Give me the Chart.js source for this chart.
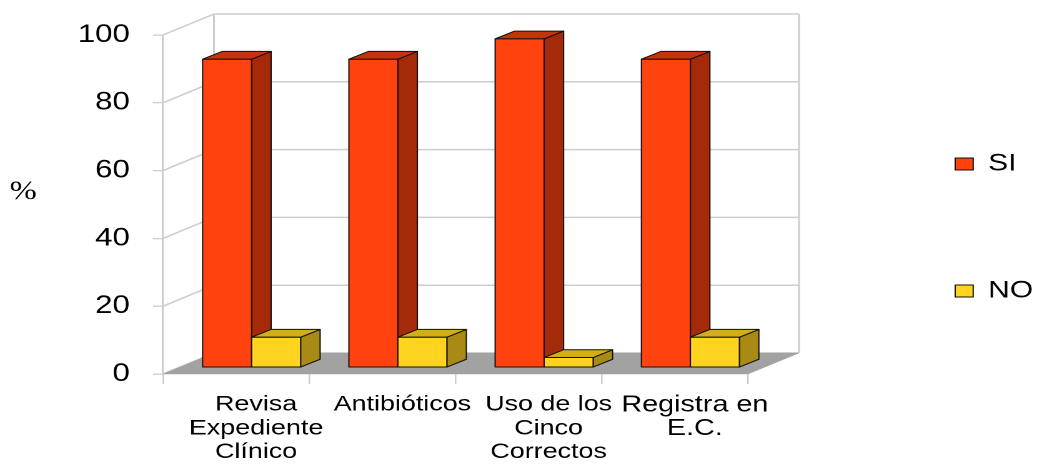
<!DOCTYPE html>
<html>
<head>
<meta charset="utf-8">
<script src="https://cdn.jsdelivr.net/npm/chart.js@4/dist/chart.umd.min.js"></script>
<style>
  html, body { margin: 0; padding: 0; background: #fff; overflow: hidden; }
  #wrap {
    position: absolute; left: 0; top: 0;
    width: 830px; height: 476px;
    transform: scaleX(1.2494); transform-origin: 0 0;
  }
</style>
</head>
<body>
<div id="wrap"><canvas id="chart"></canvas></div>
<script>
// ---- data ----
const categories = [
  ['Revisa', 'Expediente', 'Clínico'],
  ['Antibióticos'],
  ['Uso de los', 'Cinco', 'Correctos'],
  ['Registra en', 'E.C.']
];
const seriesNames = ['SI', 'NO'];
const siValues = [91, 91, 97, 91];
const noValues = [9, 9, 3, 9];
const yTickValues = [0, 20, 40, 60, 80, 100];
const axisTitle = '%';

// ---- look ----
const FONT = "'Liberation Sans', Arial, sans-serif";
const GRID = '#cdcdcd';
const FLOOR = '#a2a2a2';
// full depth of the box (back wall offset) and the slab the bars occupy
const DEPTH = { dx: 40.8, dy: -21 };
const BAR_FRONT = { dx: 12.4, dy: -6.3 };
const BAR_DEPTH = { dx: 15.6, dy: -7.8 };

function poly(ctx, pts, fill) {
  ctx.beginPath();
  ctx.moveTo(pts[0][0], pts[0][1]);
  for (let i = 1; i < pts.length; i++) ctx.lineTo(pts[i][0], pts[i][1]);
  ctx.closePath();
  ctx.fillStyle = fill;
  ctx.fill();
  ctx.stroke();
}

// back wall, left wall lines and floor
const walls3d = {
  id: 'walls3d',
  beforeDraw(chart) {
    const { ctx, chartArea: a, scales: { y } } = chart;
    const L = a.left, R = a.right;
    ctx.save();
    ctx.fillStyle = '#fff';
    ctx.fillRect(0, 0, chart.width, chart.height);
    ctx.strokeStyle = GRID;
    ctx.lineWidth = 1.5;
    ctx.beginPath();
    y.ticks.forEach(t => {
      const py = y.getPixelForValue(t.value);
      ctx.moveTo(L, py); ctx.lineTo(L + DEPTH.dx, py + DEPTH.dy);
      ctx.moveTo(L + DEPTH.dx, py + DEPTH.dy); ctx.lineTo(R + DEPTH.dx, py + DEPTH.dy);
    });
    const top = y.getPixelForValue(y.max) + DEPTH.dy;
    const bot = y.getPixelForValue(0) + DEPTH.dy;
    ctx.moveTo(L + DEPTH.dx, top); ctx.lineTo(L + DEPTH.dx, bot);
    ctx.moveTo(R + DEPTH.dx, top); ctx.lineTo(R + DEPTH.dx, bot);
    ctx.stroke();
    const B = y.getPixelForValue(0);
    ctx.strokeStyle = FLOOR;
    ctx.lineWidth = 0.5;
    poly(ctx, [[L, B], [R, B], [R + DEPTH.dx, B + DEPTH.dy], [L + DEPTH.dx, B + DEPTH.dy]], FLOOR);
    ctx.restore();
  },
  afterDraw(chart) {
    const ctx = chart.ctx;
    ctx.save();
    ctx.fillStyle = '#000';
    ctx.font = "26px 'Liberation Serif', 'Times New Roman', serif";
    ctx.textAlign = 'center';
    ctx.textBaseline = 'middle';
    ctx.fillText(axisTitle, 18.6, 192);
    ctx.restore();
  }
};

// bars drawn as boxes from the bar elements laid out by the chart
const bars3d = {
  id: 'bars3d',
  beforeDatasetsDraw(chart) {
    const ctx = chart.ctx;
    const metas = chart.getSortedVisibleDatasetMetas();
    ctx.save();
    ctx.strokeStyle = '#111';
    ctx.lineWidth = 1;
    ctx.lineJoin = 'round';
    for (let i = 0; i < chart.data.labels.length; i++) {
      metas.forEach(meta => {
        const el = meta.data[i];
        const ds = chart.data.datasets[meta.index];
        const x0 = el.x - el.width / 2 + BAR_FRONT.dx;
        const x1 = el.x + el.width / 2 + BAR_FRONT.dx;
        const yt = el.y + BAR_FRONT.dy;
        const yb = el.base + BAR_FRONT.dy;
        const ddx = BAR_DEPTH.dx, ddy = BAR_DEPTH.dy;
        poly(ctx, [[x1, yt], [x1 + ddx, yt + ddy], [x1 + ddx, yb + ddy], [x1, yb]], ds.sideColor);
        poly(ctx, [[x0, yt], [x0 + ddx, yt + ddy], [x1 + ddx, yt + ddy], [x1, yt]], ds.topColor);
        poly(ctx, [[x0, yt], [x1, yt], [x1, yb], [x0, yb]], ds.backgroundColor);
      });
    }
    ctx.restore();
    return false;
  }
};

new Chart(document.getElementById('chart'), {
  type: 'bar',
  data: {
    labels: categories,
    datasets: [
      {
        label: seriesNames[0], data: siValues,
        backgroundColor: '#ff420e', topColor: '#c5350b', sideColor: '#a52a0a',
        borderColor: '#111', borderWidth: 1,
        categoryPercentage: 0.67, barPercentage: 1.0
      },
      {
        label: seriesNames[1], data: noValues,
        backgroundColor: '#ffd320', topColor: '#d3ae19', sideColor: '#a88a14',
        borderColor: '#111', borderWidth: 1,
        categoryPercentage: 0.67, barPercentage: 1.0
      }
    ]
  },
  options: {
    responsive: true,
    maintainAspectRatio: false,
    animation: false,
    devicePixelRatio: 2,
    layout: { padding: { top: -21, bottom: 0, left: 0, right: 0 } },
    plugins: {
      legend: {
        position: 'right',
        align: 'center',
        maxWidth: 168.5,
        labels: {
          boxWidth: 14.4, boxHeight: 12, padding: 103, color: '#000',
          font: { family: FONT, size: 24 }
        }
      },
      tooltip: { enabled: false }
    },
    scales: {
      x: {
        offset: true,
        grid: { offset: true, drawOnChartArea: false, tickLength: 10, color: GRID, lineWidth: 1.3 },
        border: { display: false },
        ticks: {
          color: '#000', padding: 9, labelOffset: 16, maxRotation: 0, minRotation: 0, autoSkip: false,
          font: c => c.index === 3
            ? { family: FONT, size: 23, lineHeight: 1.04 }
            : { family: FONT, size: 21.5, lineHeight: 1.1 }
        },
        afterFit: s => { s.height = 102; }
      },
      xTop: {
        type: 'linear', position: 'top', display: true,
        grid: { display: false }, border: { display: false }, ticks: { display: false },
        afterFit: s => { s.height = 56; }
      },
      y: {
        min: 0, max: 100,
        afterBuildTicks: s => { s.ticks = yTickValues.map(v => ({ value: v })); },
        grid: { drawOnChartArea: false, tickLength: 8, color: GRID, lineWidth: 1.3 },
        border: { display: true, color: GRID, width: 1.5 },
        ticks: { color: '#000', padding: 18.5, font: { family: FONT, size: 25 } },
        afterFit: s => { s.width = 130.46; }
      },
      yR: {
        type: 'linear', position: 'right', display: true,
        grid: { display: false }, border: { display: false }, ticks: { display: false },
        afterFit: s => { s.width = 62.8; }
      }
    }
  },
  plugins: [walls3d, bars3d]
});
</script>
</body>
</html>
